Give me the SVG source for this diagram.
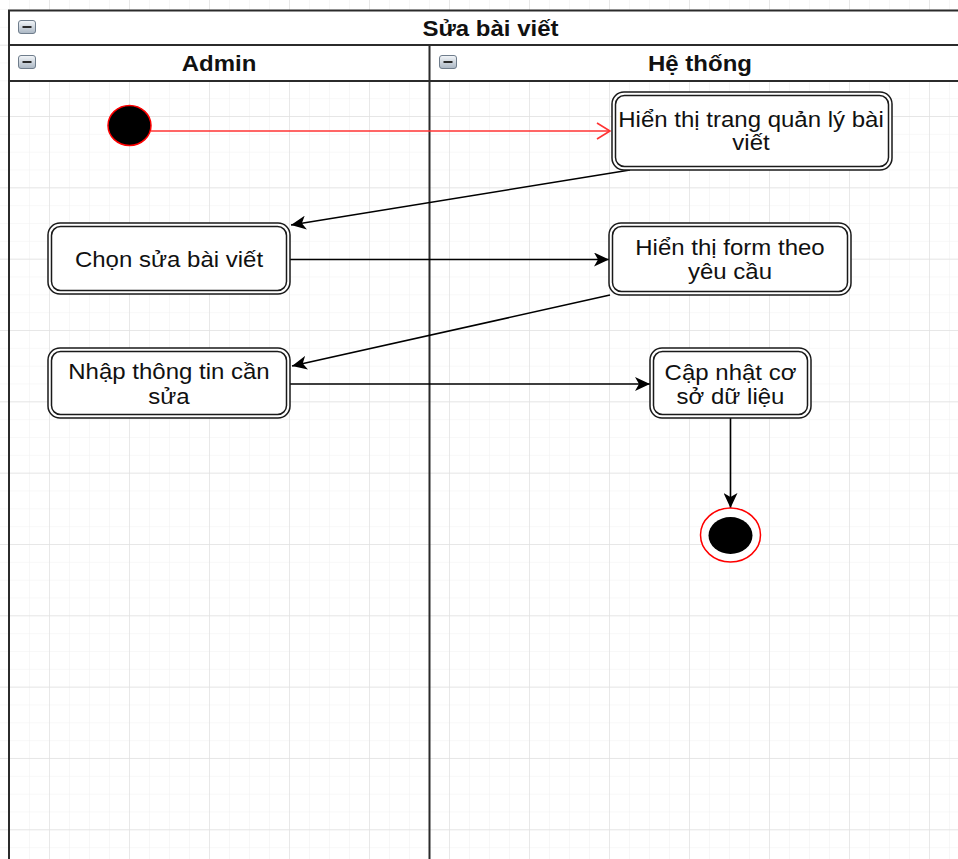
<svg xmlns="http://www.w3.org/2000/svg" width="958" height="859" viewBox="0 0 958 859">
  <style>
    .lbl { font-family: "Liberation Sans", Arial, sans-serif; font-size: 24px; fill: #111; text-anchor: middle; }
    .bold { font-weight: bold; }
    .frame { fill: none; stroke: #2b2b2b; stroke-width: 2; }
    .node { fill: #fff; stroke: #1a1a1a; stroke-width: 1.5; }
    .node-in { fill: none; stroke: #1a1a1a; stroke-width: 1.5; }
    .flow { fill: none; stroke: #000; stroke-width: 1.6; }
  </style>
  <defs>
    <pattern id="gridMinor" patternUnits="userSpaceOnUse" x="9" y="9" width="20" height="17.833">
      <path d="M0,0 H20 M0,0 V17.833" fill="none" stroke="#f1f1f1" stroke-width="1.2"/>
    </pattern>
    <pattern id="gridMajor" patternUnits="userSpaceOnUse" x="49" y="44.67" width="80" height="71.33">
      <path d="M0,0 H80 M0,0 V71.33" fill="none" stroke="#e1e1e1" stroke-width="1.4"/>
    </pattern>
    <linearGradient id="iconFill" x1="0" y1="0" x2="0" y2="1">
      <stop offset="0" stop-color="#f4f7fa"/>
      <stop offset="1" stop-color="#aab6c3"/>
    </linearGradient>
    <marker id="arrowBlack" markerUnits="userSpaceOnUse" markerWidth="16" markerHeight="14" viewBox="0 0 16 14" refX="15" refY="7" orient="auto">
      <path d="M15,7 L0,0 L4,7 L0,14 Z" fill="#000"/>
    </marker>
    <marker id="arrowRed" markerUnits="userSpaceOnUse" markerWidth="16" markerHeight="18" viewBox="0 0 16 18" refX="14" refY="9" orient="auto">
      <path d="M1,1 L14,9 L1,17" fill="none" stroke="#ff3333" stroke-width="1.6"/>
    </marker>
    <g id="collapse">
      <rect x="0" y="0" width="17" height="13" rx="2.5" fill="url(#iconFill)" stroke="#6f7d8c" stroke-width="1"/>
      <path d="M4,6.5 H13" stroke="#2a2a2a" stroke-width="2"/>
    </g>
  </defs>

  <!-- canvas grid -->
  <rect width="958" height="859" fill="#fff"/>
  <rect width="958" height="859" fill="url(#gridMinor)"/>
  <rect width="958" height="859" fill="url(#gridMajor)"/>

  <!-- pool with two lanes -->
  <g id="pool">
    <rect x="9" y="10.5" width="962" height="34.5" fill="#fff"/>
    <rect x="9" y="45" width="962" height="36" fill="#fff"/>
    <rect class="frame" x="9" y="10.5" width="962" height="900"/>
    <path class="frame" d="M9,45 H971 M9,81 H971 M429.5,45 V910"/>
    <use href="#collapse" x="18.5" y="20.5"/>
    <text class="lbl bold" transform="translate(490.5,35.5) scale(1,0.9)">Sửa bài viết</text>
  </g>
  <g id="lane-admin">
    <use href="#collapse" x="18.5" y="55.5"/>
    <text class="lbl bold" transform="translate(219,71) scale(1,0.9)">Admin</text>
  </g>
  <g id="lane-system">
    <use href="#collapse" x="439.5" y="55.5"/>
    <text class="lbl bold" transform="translate(700,71) scale(1,0.9)">Hệ thống</text>
  </g>

  <!-- connectors -->
  <g id="connectors">
    <path d="M151,131 H610" fill="none" stroke="#ff3333" stroke-width="1.6" marker-end="url(#arrowRed)"/>
    <path class="flow" d="M630,170 L291,225" marker-end="url(#arrowBlack)"/>
    <path class="flow" d="M290,259.5 H609" marker-end="url(#arrowBlack)"/>
    <path class="flow" d="M610,295 L292,366" marker-end="url(#arrowBlack)"/>
    <path class="flow" d="M290,384 H650" marker-end="url(#arrowBlack)"/>
    <path class="flow" d="M730.5,418 V508" marker-end="url(#arrowBlack)"/>
  </g>

  <!-- start -->
  <g id="start">
    <ellipse cx="129.5" cy="125.5" rx="21.5" ry="20" fill="#000" stroke="#ff0000" stroke-width="1.5"/>
  </g>

  <g id="show-list">
    <rect class="node" x="612" y="92" width="280" height="78" rx="12"/>
    <rect class="node-in" x="615.5" y="95.5" width="273" height="71" rx="9"/>
    <text class="lbl" transform="translate(751,126.5) scale(1,0.9)">Hiển thị trang quản lý bài</text>
    <text class="lbl" transform="translate(751,149.5) scale(1,0.9)">viết</text>
  </g>

  <g id="choose-edit">
    <rect class="node" x="48" y="223" width="242" height="71" rx="12"/>
    <rect class="node-in" x="51.5" y="226.5" width="235" height="64" rx="9"/>
    <text class="lbl" transform="translate(169,267) scale(1,0.9)">Chọn sửa bài viết</text>
  </g>

  <g id="show-form">
    <rect class="node" x="609" y="223" width="242" height="72" rx="12"/>
    <rect class="node-in" x="612.5" y="226.5" width="235" height="65" rx="9"/>
    <text class="lbl" transform="translate(730,255) scale(1,0.9)">Hiển thị form theo</text>
    <text class="lbl" transform="translate(730,279) scale(1,0.9)">yêu cầu</text>
  </g>

  <g id="enter-info">
    <rect class="node" x="48" y="348" width="242" height="70" rx="12"/>
    <rect class="node-in" x="51.5" y="351.5" width="235" height="63" rx="9"/>
    <text class="lbl" transform="translate(169,379) scale(1,0.9)">Nhập thông tin cần</text>
    <text class="lbl" transform="translate(169,404) scale(1,0.9)">sửa</text>
  </g>

  <g id="update-db">
    <rect class="node" x="650" y="348" width="161" height="70" rx="12"/>
    <rect class="node-in" x="653.5" y="351.5" width="154" height="63" rx="9"/>
    <text class="lbl" transform="translate(730.5,380) scale(1,0.9)">Cập nhật cơ</text>
    <text class="lbl" transform="translate(730.5,404) scale(1,0.9)">sở dữ liệu</text>
  </g>

  <!-- end -->
  <g id="end">
    <ellipse cx="730.5" cy="535" rx="30" ry="27" fill="#fff" stroke="#ff0000" stroke-width="1.5"/>
    <ellipse cx="730.5" cy="535.5" rx="22" ry="18.5" fill="#000"/>
  </g>
</svg>
